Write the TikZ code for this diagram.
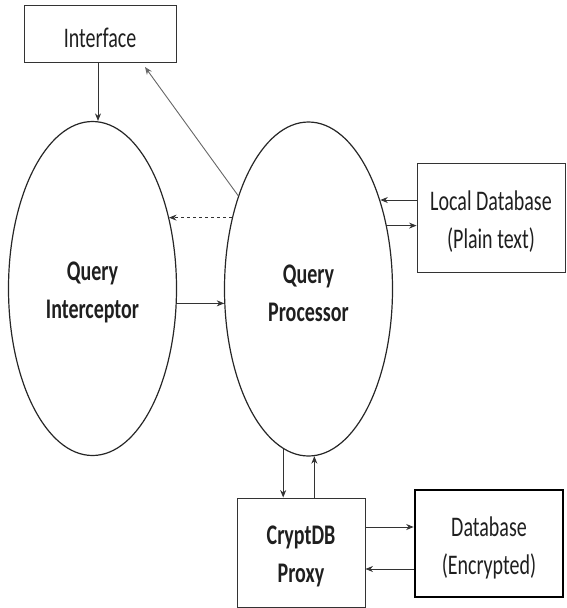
\documentclass[tikz,border=0pt]{standalone}
\usepackage{graphicx}
\usepackage{fontspec}
\setmainfont{Carlito}
\usetikzlibrary{arrows.meta,shapes.geometric}
\newcommand\vs[1]{\raisebox{-4pt}[\height][\depth]{\scalebox{1}[1.42]{#1}}}
\begin{document}
\begin{tikzpicture}[x=1pt,y=-1pt,
  box/.style={draw=black!80, line width=0.9pt, inner sep=0pt, align=center, text=black!88, font=\fontsize{20}{38}\selectfont},
  oval/.style={ellipse, draw=black!85, line width=1.2pt, minimum width=168pt, minimum height=334pt, inner sep=0pt, align=center, text=black!88, font=\bfseries\fontsize{20}{38}\selectfont},
  arr/.style={-{Stealth[length=7.5pt,width=6pt]}, line width=0.9pt, draw=black!80},
]
\useasboundingbox (0,0) rectangle (567,608);

\node[box, minimum width=152pt, minimum height=57pt] (iface) at (100,33.5) {\vs{Interface}};
\node[oval] (qi) at (92.5,288.5) {\vs{Query}\\\vs{Interceptor}};
\node[oval] (qp) at (308.5,289) {\vs{Query}\\\vs{Processor}};
\node[box, minimum width=148pt, minimum height=109pt] (ldb) at (491,217.5) {\vs{Local Database}\\\vs{(Plain text)}};
\node[box, minimum width=128pt, minimum height=109pt, font=\bfseries\fontsize{20}{38}\selectfont] (cdb) at (301,552.5) {\vs{CryptDB}\\\vs{Proxy}};
\node[box, line width=2.6pt, draw=black, minimum width=148pt, minimum height=107pt] (db) at (489,543.5) {\vs{Database}\\\vs{(Encrypted)}};

\coordinate (ifin) at (145,67);

% Interface -> Query Interceptor
\draw[arr] ([xshift=-2pt]iface.south) -- ([xshift=-2pt]iface.south |- qi.north);
% Query Processor -> Interface
\draw[arr, draw=black!60] (qp.127) -- (ifin);
% dashed Processor -> Interceptor
\draw[arr, dashed] (qp.137) -- (qi.43 |- qp.137);
% Interceptor -> Processor
\draw[arr] (qi.-10) -- (qi.-10 -| qp.190);
% Local DB <-> Processor
\draw[arr] ([yshift=17.5pt]ldb.west) -- ([yshift=17.5pt]ldb.west -| qp.51.5);
\draw[arr] (qp.39.7) -- (qp.39.7 -| ldb.west);
% Processor <-> CryptDB
\draw[arr] (qp.-99.5) -- (qp.-99.5 |- cdb.north);
\draw[arr] (qp.-88 |- cdb.north) -- (qp.-88);
% CryptDB <-> Database
\draw[arr] ([yshift=25.5pt]cdb.east) -- ([yshift=25.5pt]cdb.east -| db.west);
\draw[arr] ([yshift=-25.5pt]db.west) -- ([yshift=-25.5pt]db.west -| cdb.east);
\end{tikzpicture}
\end{document}
